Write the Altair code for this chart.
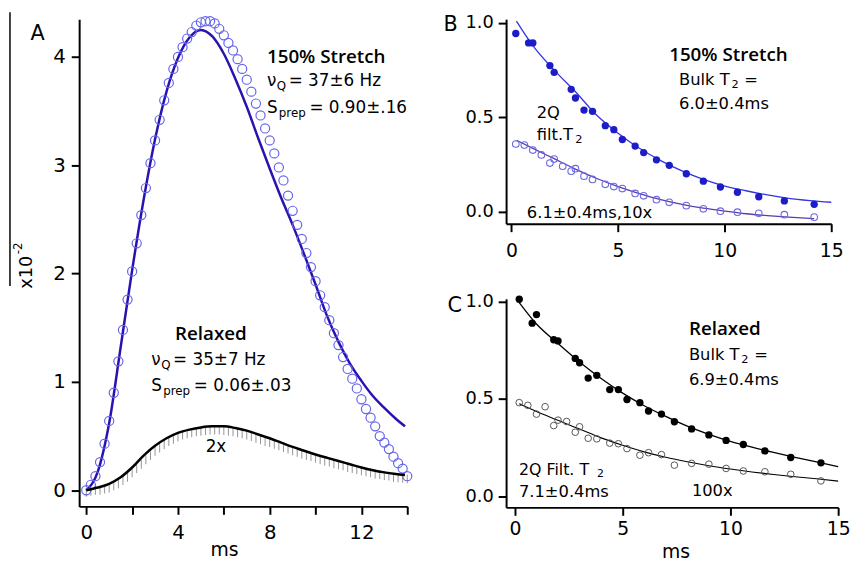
import altair as alt
import pandas as pd

FONT = "DejaVu Sans"
HFONT = "Open Sans"

# ---------------- Panel A : 2Q signal build-up (x10^-2) ----------------
a_time = [0.0, 0.2, 0.4, 0.6, 0.8, 1.0, 1.2, 1.4, 1.6, 1.8,
          2.0, 2.2, 2.4, 2.6, 2.8, 3.0, 3.2, 3.4, 3.6, 3.8,
          4.0, 4.2, 4.4, 4.6, 4.8, 5.0, 5.2, 5.4, 5.6, 5.8,
          6.0, 6.2, 6.4, 6.6, 6.8, 7.0, 7.2, 7.4, 7.6, 7.8,
          8.0, 8.2, 8.4, 8.6, 8.8, 9.0, 9.2, 9.4, 9.6, 9.8,
          10.0, 10.2, 10.4, 10.6, 10.8, 11.0, 11.2, 11.4, 11.6, 11.8,
          12.0, 12.2, 12.4, 12.6, 12.8, 13.0, 13.2, 13.4, 13.6, 13.8, 14.0]
a_stretch = [0.00, 0.05, 0.13, 0.26, 0.43, 0.64, 0.90, 1.19, 1.48, 1.76,
             2.02, 2.28, 2.54, 2.79, 3.02, 3.23, 3.42, 3.60, 3.76, 3.89,
             4.00, 4.09, 4.17, 4.23, 4.29, 4.32, 4.33, 4.33, 4.31, 4.26,
             4.20, 4.13, 4.06, 3.98, 3.89, 3.79, 3.68, 3.57, 3.46, 3.34,
             3.23, 3.11, 2.98, 2.86, 2.72, 2.58, 2.45, 2.32, 2.19, 2.06,
             1.93, 1.80, 1.69, 1.57, 1.45, 1.34, 1.23, 1.12, 1.03, 0.94,
             0.84, 0.75, 0.67, 0.59, 0.50, 0.44, 0.38, 0.31, 0.25, 0.20, 0.13]
a_relaxed = [-0.02, -0.01, 0.00, 0.00, 0.01, 0.02, 0.04, 0.06, 0.09, 0.12,
             0.16, 0.20, 0.24, 0.28, 0.32, 0.36, 0.39, 0.42, 0.45, 0.47,
             0.49, 0.51, 0.52, 0.53, 0.54, 0.545, 0.55, 0.555, 0.555, 0.555,
             0.55, 0.545, 0.54, 0.53, 0.52, 0.51, 0.495, 0.48, 0.465, 0.45,
             0.44, 0.425, 0.41, 0.395, 0.38, 0.365, 0.35, 0.335, 0.32, 0.31,
             0.295, 0.28, 0.27, 0.26, 0.245, 0.235, 0.225, 0.21, 0.20, 0.19,
             0.18, 0.17, 0.16, 0.15, 0.145, 0.135, 0.13, 0.12, 0.115, 0.11, 0.105]
a_fit_time = [0.0, 0.5, 1.0, 1.5, 2.0, 2.5, 3.0, 3.5, 4.0, 4.5, 5.0, 5.5, 6.0, 6.5,
              7.0, 7.5, 8.0, 8.5, 9.0, 9.5, 10.0, 10.5, 11.0, 11.5, 12.0, 12.5,
              13.0, 13.5, 13.9]
a_stretch_fit = [0.0, 0.17, 0.62, 1.32, 2.03, 2.68, 3.24, 3.68, 3.99, 4.18, 4.25, 4.19,
                 4.03, 3.80, 3.54, 3.25, 2.97, 2.70, 2.45, 2.18, 1.90, 1.61, 1.37,
                 1.17, 1.01, 0.87, 0.76, 0.66, 0.59]
a_relaxed_fit = [0.0, 0.025, 0.06, 0.12, 0.21, 0.32, 0.41, 0.48, 0.53, 0.56, 0.58, 0.59,
                 0.59, 0.575, 0.55, 0.515, 0.48, 0.44, 0.40, 0.365, 0.33, 0.30, 0.27,
                 0.24, 0.21, 0.185, 0.165, 0.15, 0.14]

# ---------------- Panel B : 150% stretch T2 decays ----------------
b_bulk_time = [0.2, 0.8, 1.0, 1.8, 2.0, 2.8, 3.0, 3.4, 3.8, 4.4, 4.8, 5.2, 5.8, 6.2,
               6.8, 7.4, 8.2, 9.0, 9.8, 10.6, 11.6, 12.8, 14.2]
b_bulk = [0.944, 0.894, 0.894, 0.774, 0.738, 0.648, 0.602, 0.538, 0.531, 0.455, 0.434,
          0.382, 0.347, 0.3125, 0.274, 0.245, 0.20, 0.161, 0.130, 0.102, 0.078, 0.056, 0.038]
b_2q_time = [0.2, 0.6, 1.0, 1.4, 1.8, 2.0, 2.4, 2.8, 3.0, 3.4, 3.8, 4.4, 4.8, 5.2, 5.8,
             6.2, 6.8, 7.4, 8.2, 9.0, 9.8, 10.6, 11.6, 12.8, 14.2]
b_2q = [0.358, 0.352, 0.326, 0.300, 0.257, 0.278, 0.240, 0.214, 0.227, 0.1875, 0.170,
        0.144, 0.132, 0.1215, 0.0955, 0.083, 0.0625, 0.0486, 0.031, 0.014, 0.0017,
        -0.0035, -0.010, -0.017, -0.030]
b_fit_time = [0.23, 1, 2, 3, 4, 5, 6, 7, 8, 9, 10, 11, 12, 13, 14, 15]
b_bulk_fit = [1.01, 0.88, 0.75, 0.635, 0.51, 0.415, 0.335, 0.27, 0.215, 0.17, 0.135,
              0.11, 0.088, 0.07, 0.058, 0.049]
b_2q_fit_time = [0.23, 1, 2, 3, 4, 5, 6, 7, 8, 9, 10, 11, 12, 13, 14.2]
b_2q_fit = [0.378, 0.335, 0.28, 0.225, 0.175, 0.132, 0.095, 0.063, 0.038, 0.018, 0.002,
            -0.012, -0.022, -0.030, -0.038]

# ---------------- Panel C : relaxed T2 decays ----------------
c_bulk_time = b_bulk_time
c_bulk = [1.012, 0.889, 0.933, 0.804, 0.798, 0.708, 0.686, 0.607, 0.621, 0.548, 0.548,
          0.497, 0.481, 0.438, 0.422, 0.383, 0.346, 0.315, 0.287, 0.266, 0.233, 0.199, 0.172]
c_2q_time = b_2q_time
c_2q = [0.481, 0.467, 0.422, 0.460, 0.363, 0.391, 0.384, 0.329, 0.357, 0.298, 0.295,
        0.273, 0.270, 0.245, 0.211, 0.224, 0.214, 0.160, 0.169, 0.165, 0.143, 0.130,
        0.126, 0.113, 0.079]
c_fit_time = [0.2, 1, 2, 3, 4, 5, 6, 7, 8, 9, 10, 11, 12, 13, 14, 15]
c_bulk_fit = [0.995, 0.885, 0.785, 0.69, 0.605, 0.53, 0.465, 0.41, 0.36, 0.318, 0.282,
              0.252, 0.225, 0.20, 0.177, 0.152]
c_2q_fit = [0.475, 0.435, 0.39, 0.345, 0.30, 0.262, 0.228, 0.20, 0.177, 0.157, 0.14,
            0.125, 0.112, 0.10, 0.09, 0.078]


def df(t, v):
    return pd.DataFrame({"t": t, "v": v})


def axis(values, size, pad, fmt=None, label_expr=None):
    kw = dict(values=values, tickSize=8, tickWidth=2, domainWidth=2,
              domainColor="black", tickColor="black", labelColor="black",
              labelFontSize=size, labelFont=FONT, labelPadding=pad, grid=False,
              title=None, labelFlush=False, labelOverlap=False)
    if fmt:
        kw["format"] = fmt
    if label_expr:
        kw["labelExpr"] = label_expr
    return alt.Axis(**kw)


ONE = pd.DataFrame({"k": [0]})


def label(text, x, y, size=17, weight="normal", align="left",
          baseline="alphabetic", angle=0, font=FONT):
    return alt.Chart(pd.DataFrame({"txt": [text]})).mark_text(
        align=align, baseline=baseline, fontSize=size, fontWeight=weight,
        font=font, angle=angle, color="black"
    ).encode(x=alt.value(x), y=alt.value(y), text="txt:N")


def heading(text, x, y):
    return label(text, x, y, 19, weight=600, font=HFONT)


def sub_line(x, y, main, sub, rest, size=17, ssize=12, dsub=10, drest=22):
    return [label(main, x, y, size), label(sub, x + dsub, y + 4, ssize),
            label(rest, x + drest, y, size)]


# ---------------- build panel A ----------------
xA = alt.X("t:Q", scale=alt.Scale(domain=[-0.31, 14.0], nice=False, zero=False),
           axis=axis([0, 2, 4, 6, 8, 10, 12, 14], 20, 9,
                     label_expr="datum.value % 4 == 0 ? datum.label : ''"))
yA = alt.Y("v:Q", scale=alt.Scale(domain=[-0.149, 4.349], nice=False, zero=False),
           axis=axis([0, 1, 2, 3, 4], 20, 6, fmt="d"))

A_layers = [
    alt.Chart(df(a_fit_time, a_stretch_fit)).mark_line(
        color="#2a12b0", strokeWidth=2.5, interpolate="monotone").encode(xA, yA),
    alt.Chart(df(a_time, a_stretch)).mark_point(
        shape="circle", filled=False, size=85, strokeWidth=1.2,
        color="#6464ee", opacity=1).encode(xA, yA),
    alt.Chart(df(a_time, a_relaxed)).mark_tick(
        orient="vertical", size=9, thickness=1, color="#666666").encode(xA, yA),
    alt.Chart(df(a_fit_time, a_relaxed_fit)).mark_line(
        color="black", strokeWidth=2.5, interpolate="monotone").encode(xA, yA),
    alt.Chart(ONE).mark_rule(color="black", strokeWidth=1.5).encode(
        x=alt.value(-70), y=alt.value(-7), y2=alt.value(270)),
    label("A", -42, 15, 21, align="center", baseline="middle"),
    label("x10", -53, 256, 18, align="center", baseline="middle", angle=270),
    label("-2", -62, 232, 12, align="center", baseline="middle", angle=270),
    heading("150% Stretch", 190, 44),
    *sub_line(190, 68, "ν", "Q", "= 37±6 Hz"),
    *sub_line(190, 95, "S", "prep", "= 0.90±.16", dsub=12, drest=43),
    heading("Relaxed", 97, 325),
    *sub_line(73, 350, "ν", "Q", "= 35±7 Hz"),
    *sub_line(73, 376, "S", "prep", "= 0.06±.03", dsub=12, drest=43),
    label("2x", 128, 438, 17),
    label("ms", 147, 543, 19, align="center"),
]
panelA = alt.layer(*A_layers).properties(width=332, height=493)

# ---------------- build panel B ----------------
xB = alt.X("t:Q", scale=alt.Scale(domain=[-0.255, 15], nice=False, zero=False),
           axis=axis([0, 5, 10, 15], 19, 10))
yB = alt.Y("v:Q", scale=alt.Scale(domain=[-0.065, 1.02], nice=False, zero=False),
           axis=axis([0, 0.5, 1.0], 18, 5, fmt=".1f"))

B_layers = [
    alt.Chart(df(b_fit_time, b_bulk_fit)).mark_line(
        color="#3434e0", strokeWidth=1.3, interpolate="monotone").encode(xB, yB),
    alt.Chart(df(b_2q_fit_time, b_2q_fit)).mark_line(
        color="#5a3cb0", strokeWidth=1.3, interpolate="monotone").encode(xB, yB),
    alt.Chart(df(b_bulk_time, b_bulk)).mark_circle(
        size=55, color="#1c1cc8", opacity=1).encode(xB, yB),
    alt.Chart(df(b_2q_time, b_2q)).mark_point(
        shape="circle", filled=False, size=45, strokeWidth=1.1,
        color="#6a6ae0", opacity=1).encode(xB, yB),
    label("B", -56, 6, 21, align="center", baseline="middle"),
    heading("150% Stretch", 165, 42),
    label("Bulk T", 175, 67, 16.5),
    label("2", 228, 70, 11.5),
    label("=", 241, 67, 16.5),
    label("6.0±0.4ms", 175, 91, 16.5),
    label("2Q", 31, 100, 16.5),
    label("filt.T", 31, 122, 16.5),
    label("2", 70, 125, 11.5),
    label("6.1±0.4ms,10x", 21, 201, 16.5),
]
panelB = alt.layer(*B_layers).properties(width=329, height=207)

# ---------------- build panel C ----------------
xC = alt.X("t:Q", scale=alt.Scale(domain=[-0.41, 15], nice=False, zero=False),
           axis=axis([0, 5, 10, 15], 19, 4))
yC = alt.Y("v:Q", scale=alt.Scale(domain=[-0.057, 1.014], nice=False, zero=False),
           axis=axis([0, 0.5, 1.0], 18, 5, fmt=".1f"))

C_layers = [
    alt.Chart(df(c_fit_time, c_bulk_fit)).mark_line(
        color="black", strokeWidth=1.3, interpolate="monotone").encode(xC, yC),
    alt.Chart(df(c_fit_time, c_2q_fit)).mark_line(
        color="black", strokeWidth=1.1, interpolate="monotone").encode(xC, yC),
    alt.Chart(df(c_bulk_time, c_bulk)).mark_circle(
        size=55, color="black", opacity=1).encode(xC, yC),
    alt.Chart(df(c_2q_time, c_2q)).mark_point(
        shape="circle", filled=False, size=45, strokeWidth=1.0,
        color="#555555", opacity=1).encode(xC, yC),
    label("C", -52, 7, 21, align="center", baseline="middle"),
    heading("Relaxed", 185, 37),
    label("Bulk T", 185, 62, 16.5),
    label("2", 238, 65, 11.5),
    label("=", 251, 62, 16.5),
    label("6.9±0.4ms", 185, 87, 16.5),
    label("2Q Filt. T", 13, 178, 16),
    label("2", 92, 180, 11),
    label("7.1±0.4ms", 13, 200, 16.5),
    label("100x", 188, 199, 16.5),
    label("ms", 172, 262, 19, align="center"),
]
panelC = alt.layer(*C_layers).properties(width=336, height=211)

right = alt.vconcat(panelB, panelC, spacing=76, bounds="flush")
chart = alt.hconcat(panelA, right, spacing=100, bounds="flush").properties(
    padding={"left": 1, "top": 0, "right": 0, "bottom": 0}
).configure_view(stroke=None)

chart.save("out.html", embed_options={"renderer": "svg", "actions": False})
